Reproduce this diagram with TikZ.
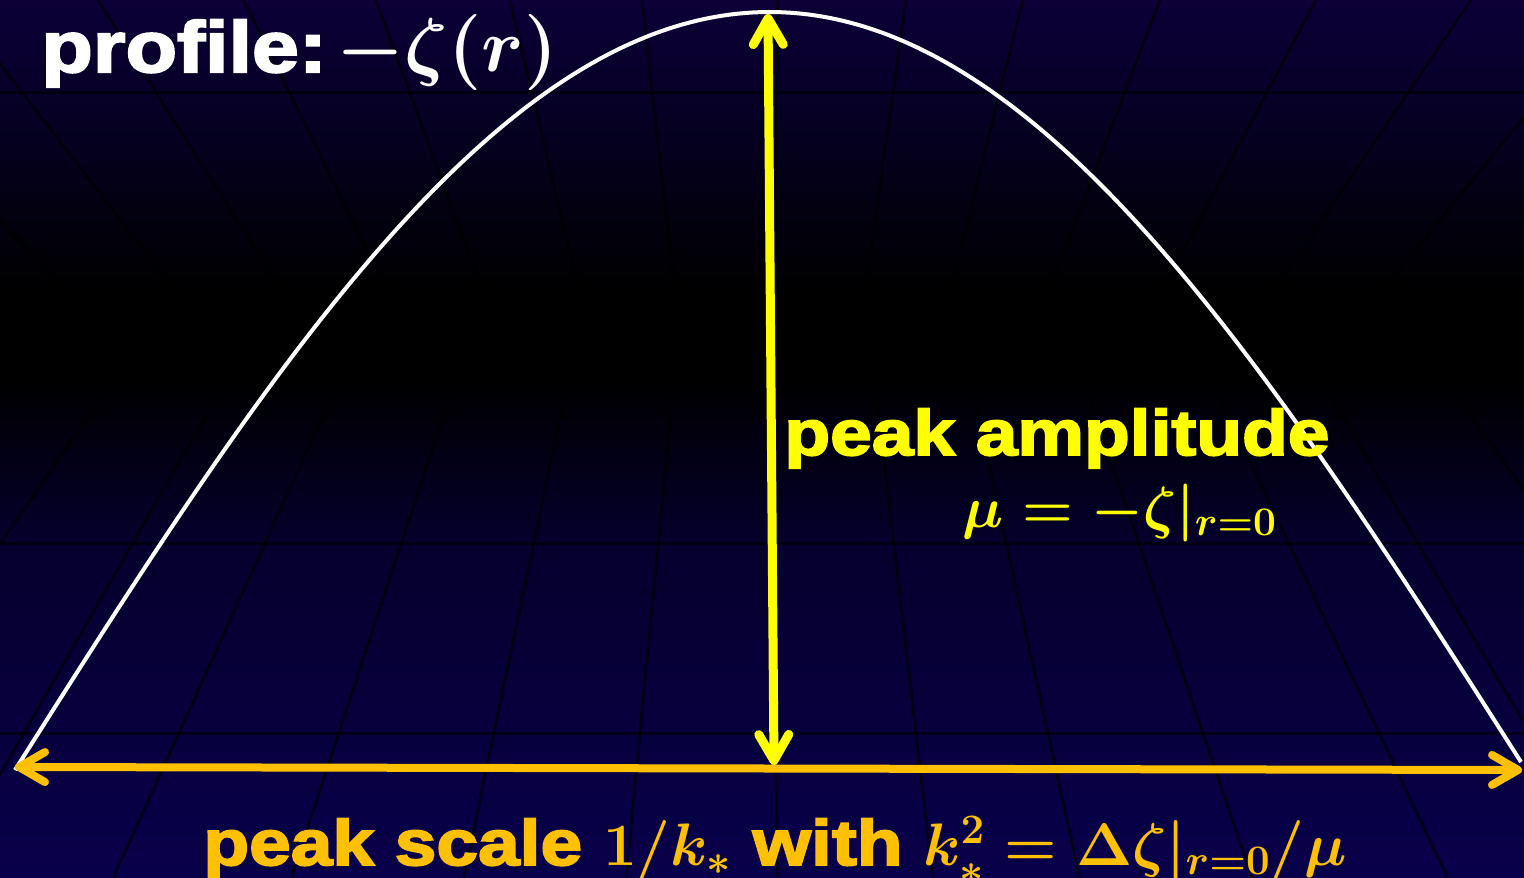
\documentclass[tikz,border=0pt]{standalone}
\usepackage{fix-cm}
\usepackage{fontspec}
\usepackage{amsmath}
\usetikzlibrary{arrows.meta}
\newfontfamily\blk[FakeBold=3,FakeStretch=1.17]{Liberation Sans Bold}
\definecolor{gold}{RGB}{255,192,0}
\definecolor{yel}{RGB}{255,255,0}
\definecolor{bgA}{RGB}{12,0,55}
\definecolor{bgB}{RGB}{7,0,40}
\definecolor{bgC}{RGB}{5,0,45}
\definecolor{bgD}{RGB}{9,0,75}
\tikzset{
  gridline/.style={black, opacity=0.6, line width=1.5pt},
  profcurve/.style={white, line width=2pt},
  amparrow/.style={yel, line width=4.5pt, {Straight Barb[length=13pt,width=15pt,round]}-{Straight Barb[length=13pt,width=15pt,round]}},
  scalearrow/.style={gold, line width=4pt, {Straight Barb[length=13pt,width=15pt,round]}-{Straight Barb[length=13pt,width=15pt,round]}},
  bigtext/.style={inner sep=0pt, anchor=base west},
}
\begin{document}
\begin{tikzpicture}[x=0.5pt,y=-0.5pt]
\useasboundingbox (0,0) rectangle (1524,877);
% background
\shade[top color=bgA,bottom color=bgB] (0,-1) rectangle (1524,96);
\shade[top color=bgB,bottom color=black] (0,95) rectangle (1524,291);
\fill[black] (0,290) rectangle (1524,381);
\shade[top color=black,bottom color=bgC] (0,380) rectangle (1524,546);
\shade[top color=bgC,bottom color=bgD] (0,545) rectangle (1524,878);
% ceiling grid
\foreach \xo in {-200,-49,98,244,376,510,642,778,906,1023,1160,1316,1471,1620}{
  \pgfmathsetmacro{\xe}{760+(\xo-760)*0.7143}
  \draw[gridline] (\xo,0) -- (\xe,300);
}
\draw[gridline] (0,93) -- (1524,93);
% floor grid
\foreach \xb in {-131,24,179,339,494,640,776,916,1048,1203,1379,1530,1700}{
  \pgfmathsetmacro{\xs}{765+(\xb-765)*0.6883}
  \pgfmathsetmacro{\xe}{765+(\xb-765)*1.1114}
  \draw[gridline] (\xs,330) -- (\xe,877);
}
\draw[gridline] (0,543) -- (1524,543);
\draw[gridline] (0,733) -- (1524,733);
% profile curve
\draw[profcurve] plot[domain=15:1521, samples=240, smooth] (\x, {770 - (\x-15)*0.005312 - 754*cos((\x-768)*0.119522)});
% arrows
\coordinate (Ltip) at (15,767);
\coordinate (Rtip) at (1522,770);
\coordinate (Ttop) at (768,14);
\coordinate (Tbot) at (774,765);
\draw[scalearrow] (Ltip) -- (Rtip);
\draw[amparrow] (Tbot) -- (Ttop);
% texts
\node[bigtext, text=white, font=\blk\fontsize{36}{40}\selectfont] (title) at (41,72) {profile:\hspace{5pt}{\fontsize{38}{42}\selectfont\boldmath$-\zeta(r)$}};
\node[bigtext, text=yel, font=\blk\fontsize{32}{36}\selectfont] (amp) at (784,455) {peak amplitude};
\node[bigtext, text=yel, font=\fontsize{29}{33}\selectfont\boldmath] (mu) at (962,527) {$\mu = -\zeta|_{r=0}$};
\node[bigtext, text=gold, font=\blk\fontsize{32}{36}\selectfont] (scale) at (203,865) {peak scale {\fontsize{30}{34}\selectfont\boldmath$1/k_*$} with {\fontsize{30}{34}\selectfont\boldmath$k_*^2 = \Delta\zeta|_{r=0}/\mu$}};
\end{tikzpicture}
\end{document}
